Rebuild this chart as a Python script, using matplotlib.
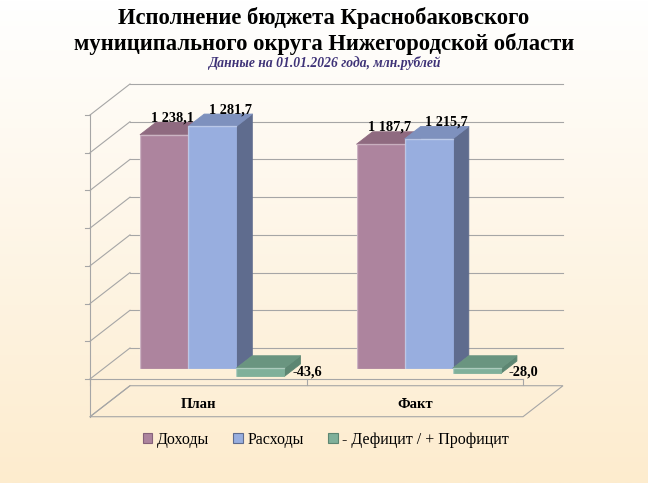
import numpy as np
import matplotlib
matplotlib.use("Agg")
import matplotlib.pyplot as plt
from matplotlib.patches import Polygon, Patch

plt.rcParams["font.family"] = ["Liberation Serif", "DejaVu Serif"]

categories = ["План", "Факт"]
series_names = ["Доходы", "Расходы", "- Дефицит / + Профицит"]
income = [1238.1, 1187.7]
expense = [1281.7, 1215.7]
balance = [-43.6, -28.0]
value_labels = [["1 238,1", "1 187,7"], ["1 281,7", "1 215,7"], ["-43,6", "-28,0"]]
y_min, y_max, y_step = -200, 1400, 200

# face colours: front, top, side
face_colors = [
    ("#ad849e", "#8f6a80", "#86627a"),
    ("#98aedf", "#7e91be", "#5f6c8e"),
    ("#7fb09a", "#6a9580", "#5d8672"),
]

# pixel geometry of the pseudo 3D box
W, H = 648, 483
px_x0, px_per_x = 90.0, 216.5          # front plane, category 0 edge
px_y0, px_per_v = 379.0, 264.0 / 1400  # front plane, value 0
depth_dx = 40.0 / px_per_x              # full depth shift in x units
depth_dy = 31.0 / px_per_v              # full depth shift in value units
bar_d0, bar_d1 = 0.35, 0.75
bar_w = 1 / 4.5

fig = plt.figure(figsize=(W / 100, H / 100), dpi=100)

# background gradient
bg = fig.add_axes([0, 0, 1, 1], zorder=-5)
grad = np.linspace(0, 1, 256)[:, None]
top_c = np.array([1.0, 1.0, 1.0])
bot_c = np.array([253, 236, 206]) / 255
img = top_c[None, None, :] * (1 - grad[..., None]) + bot_c[None, None, :] * grad[..., None]
bg.imshow(img, aspect="auto", extent=[0, 1, 0, 1])
bg.axis("off")

# main axes laid out so that data units map to the pixel geometry above
ax_l, ax_r, ax_t, ax_b = 60, 600, 60, 430
ax = fig.add_axes([ax_l / W, 1 - ax_b / H, (ax_r - ax_l) / W, (ax_b - ax_t) / H])
ax.set_xlim((ax_l - px_x0) / px_per_x, (ax_r - px_x0) / px_per_x)
ax.set_ylim((px_y0 - ax_b) / px_per_v, (px_y0 - ax_t) / px_per_v)
ax.axis("off")
ax.patch.set_alpha(0)


def proj(x, v, d):
    return (x + d * depth_dx, v + d * depth_dy)


n_cat = len(categories)
grid_c = "#a6a6a6"
ticks = np.arange(y_min, y_max + 1, y_step)

# back wall gridlines and left wall depth lines
for t in ticks:
    if t < 0:
        continue
    ax.plot(*zip(proj(0, t, 1), proj(n_cat, t, 1)), color=grid_c, lw=0.8, zorder=1)
for t in ticks:
    ax.plot(*zip(proj(0, t, 0), proj(0, t, 1)), color=grid_c, lw=0.8, zorder=1)
    if t >= 0:
        ax.plot([-5 / px_per_x, 0], [t, t], color=grid_c, lw=0.8, zorder=1)

# left axis
ax.plot([0, 0], [y_min, y_max], color=grid_c, lw=0.8, zorder=1)

# floor at axis minimum
floor = [proj(0, y_min, 0), proj(n_cat, y_min, 0), proj(n_cat, y_min, 1), proj(0, y_min, 1)]
ax.add_patch(Polygon(floor, closed=True, facecolor="none", edgecolor=grid_c, lw=0.8, zorder=1))

# category axis at zero
ax.plot([0, n_cat], [0, 0], color=grid_c, lw=0.8, zorder=2)
for i in range(n_cat + 1):
    ax.plot([i, i], [0, -6 / px_per_v], color=grid_c, lw=0.8, zorder=2)

for i, cat in enumerate(categories):
    ax.text(i + 0.5, (px_y0 - 404) / px_per_v, cat, ha="center", va="center",
            fontsize=10.5, fontweight="bold", zorder=6)


def draw_bar(x_left, v, cols, z):
    lo, hi = min(0, v), max(0, v)
    x_right = x_left + bar_w
    front = [proj(x_left, lo, bar_d0), proj(x_right, lo, bar_d0),
             proj(x_right, hi, bar_d0), proj(x_left, hi, bar_d0)]
    top = [proj(x_left, hi, bar_d0), proj(x_right, hi, bar_d0),
           proj(x_right, hi, bar_d1), proj(x_left, hi, bar_d1)]
    side = [proj(x_right, lo, bar_d0), proj(x_right, lo, bar_d1),
            proj(x_right, hi, bar_d1), proj(x_right, hi, bar_d0)]
    for pts, c in ((side, cols[2]), (top, cols[1]), (front, cols[0])):
        ax.add_patch(Polygon(pts, closed=True, facecolor=c, edgecolor=c,
                             lw=0.6, joinstyle="round", zorder=z))
    # soft highlight along the front face edges
    hl = [proj(x_left, lo, bar_d0), proj(x_left, hi, bar_d0), proj(x_right, hi, bar_d0)]
    ax.plot(*zip(*hl), color="white", alpha=0.35, lw=1.0, zorder=z)


all_series = [income, expense, balance]
label_dx = [8.5 / px_per_x, 18 / px_per_x]
for i in range(n_cat):
    for s, vals in enumerate(all_series):
        x_left = i + 0.5 - 1.5 * bar_w + s * bar_w
        draw_bar(x_left, vals[i], face_colors[s], 3 + i * 3 + s)
        v = vals[i]
        if v >= 0:
            xc = proj(x_left + bar_w / 2, 0, bar_d0)[0] + label_dx[s]
            yb = proj(0, v + 1 / px_per_v, bar_d1)[1]
            ax.text(xc, yb, value_labels[s][i],
                    ha="center", va="baseline", fontsize=10.3, fontweight="bold", zorder=20)
        else:
            xr = x_left + bar_w + 8 / px_per_x
            ax.text(*proj(xr, -7 / px_per_v, bar_d0), value_labels[s][i],
                    ha="left", va="baseline", fontsize=10.3, fontweight="bold", zorder=20)

# titles
fig.text(0.5, 1 - 18 / H, "Исполнение бюджета Краснобаковского", ha="center", va="center",
         fontsize=16.3, fontweight="bold")
fig.text(0.5, 1 - 44 / H, "муниципального округа Нижегородской области", ha="center", va="center",
         fontsize=16.3, fontweight="bold")
fig.text(0.5, 1 - 63 / H, "Данные на 01.01.2026 года, млн.рублей", ha="center", va="center",
         fontsize=9.8, fontweight="bold", fontstyle="italic", color="#3f3378")

handles = [Patch(facecolor=c[0], edgecolor=c[2], lw=0.8) for c in face_colors]
fig.legend(handles, series_names, loc="center", bbox_to_anchor=(326 / W, 1 - 440 / H),
           ncol=3, frameon=False, fontsize=11.5, handlelength=0.6, handleheight=0.6,
           handletextpad=0.3, columnspacing=1.5)

fig.savefig("out.png", dpi=100)
